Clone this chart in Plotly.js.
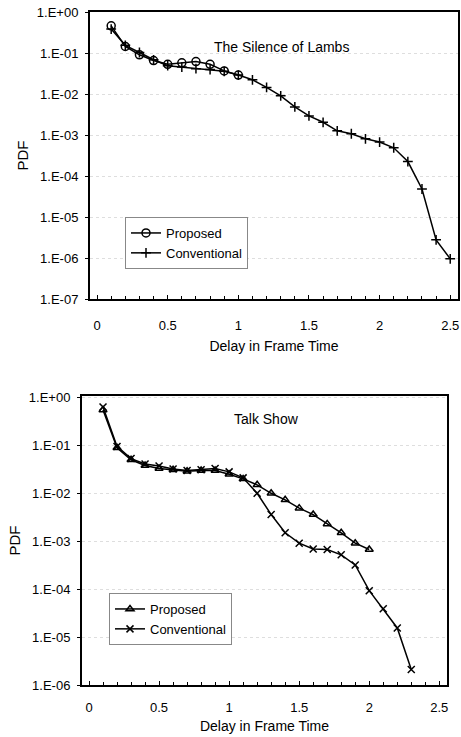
<!DOCTYPE html>
<html>
<head>
<meta charset="utf-8">
<script src="https://cdn.plot.ly/plotly-3.0.1.min.js"></script>
<style>html,body{margin:0;padding:0;background:#fff;}#chart{width:461px;height:737px;}</style>
</head>
<body>
<div id="chart"></div>
<script>
// ---- Data: "The Silence of Lambs" (top panel) ----
const lambsProposedX = [0.1,0.2,0.3,0.4,0.5,0.6,0.7,0.8,0.9,1.0];
const lambsProposedY = [0.48,0.15,0.094,0.068,0.055,0.060,0.064,0.055,0.038,0.030];
const lambsConvX = [0.1,0.2,0.3,0.4,0.5,0.6,0.7,0.8,0.9,1.0,1.1,1.2,1.3,1.4,1.5,1.6,1.7,1.8,1.9,2.0,2.1,2.2,2.3,2.4,2.5];
const lambsConvY = [0.40,0.16,0.107,0.071,0.051,0.047,0.043,0.041,0.037,0.030,0.023,0.015,0.0093,0.0050,0.0030,0.0021,0.0013,0.0011,0.00083,0.00069,0.00050,0.00023,0.000049,0.0000028,0.00000096];

// ---- Data: "Talk Show" (bottom panel) ----
const talkProposedX = [0.1,0.2,0.3,0.4,0.5,0.6,0.7,0.8,0.9,1.0,1.1,1.2,1.3,1.4,1.5,1.6,1.7,1.8,1.9,2.0];
const talkProposedY = [0.55,0.089,0.050,0.038,0.033,0.031,0.029,0.030,0.030,0.025,0.020,0.015,0.010,0.0073,0.0049,0.0036,0.0023,0.0015,0.00091,0.00067];
const talkConvX = [0.1,0.2,0.3,0.4,0.5,0.6,0.7,0.8,0.9,1.0,1.1,1.2,1.3,1.4,1.5,1.6,1.7,1.8,1.9,2.0,2.1,2.2,2.3];
const talkConvY = [0.63,0.095,0.053,0.041,0.037,0.032,0.030,0.031,0.033,0.028,0.021,0.010,0.0036,0.0015,0.00091,0.00069,0.00067,0.00052,0.00032,0.000093,0.000039,0.0000155,0.0000021];

// ---- Tick labels ----
const xTickVals = [0, 0.5, 1, 1.5, 2, 2.5];
const xTickText = ['0', '0.5', '1', '1.5', '2', '2.5'];
const topYTickVals = [1, 1e-1, 1e-2, 1e-3, 1e-4, 1e-5, 1e-6, 1e-7];
const topYTickText = ['1.E+00','1.E-01','1.E-02','1.E-03','1.E-04','1.E-05','1.E-06','1.E-07'];
const botYTickVals = [1, 1e-1, 1e-2, 1e-3, 1e-4, 1e-5, 1e-6];
const botYTickText = ['1.E+00','1.E-01','1.E-02','1.E-03','1.E-04','1.E-05','1.E-06'];

const seriesNames = ['Proposed', 'Conventional'];
const panelTitles = ['The Silence of Lambs', 'Talk Show'];
const xTitle = 'Delay in Frame Time';
const yTitle = 'PDF';

const FONT = 'Arial, "Liberation Sans", Helvetica, sans-serif';
const lineStyle = {color: '#000', width: 1.5};

const traces = [
  {x: lambsProposedX, y: lambsProposedY, name: seriesNames[0], mode: 'lines+markers', xaxis: 'x', yaxis: 'y',
   line: lineStyle, marker: {symbol: 'circle-open', size: 8, color: '#000', line: {width: 1.5, color: '#000'}}, legend: 'legend'},
  {x: lambsConvX, y: lambsConvY, name: seriesNames[1], mode: 'lines+markers', xaxis: 'x', yaxis: 'y',
   line: lineStyle, marker: {symbol: 'cross-thin', size: 7, color: '#000', line: {width: 1.5, color: '#000'}}, legend: 'legend'},
  {x: talkProposedX, y: talkProposedY, name: seriesNames[0], mode: 'lines+markers', xaxis: 'x2', yaxis: 'y2',
   line: lineStyle, marker: {symbol: 'triangle-up-open', size: 7, color: '#000', line: {width: 1.5, color: '#000'}}, legend: 'legend2'},
  {x: talkConvX, y: talkConvY, name: seriesNames[1], mode: 'lines+markers', xaxis: 'x2', yaxis: 'y2',
   line: lineStyle, marker: {symbol: 'x-thin', size: 7, color: '#000', line: {width: 1.5, color: '#000'}}, legend: 'legend2'}
];

function xAxis(domain, anchor, standoffLbl, standoffTitle) {
  return {
    domain: domain, anchor: anchor, range: [-0.05, 2.555],
    tickvals: xTickVals, ticktext: xTickText,
    ticks: 'inside', ticklen: 4, tickcolor: '#000', tickwidth: 1,
    minor: {dtick: 0.1, tick0: 0, ticks: 'inside', ticklen: 3, tickcolor: '#000', showgrid: false},
    showline: true, linecolor: '#000', linewidth: 2, mirror: true,
    showgrid: false, zeroline: false,
    ticklabelstandoff: standoffLbl,
    tickfont: {family: FONT, size: 13, color: '#000'},
    title: {text: xTitle, font: {family: FONT, size: 14, color: '#000'}, standoff: standoffTitle}
  };
}
function yAxis(domain, anchor, range, vals, text) {
  return {
    domain: domain, anchor: anchor, type: 'log', range: range,
    tickvals: vals, ticktext: text,
    ticks: 'outside', ticklen: 3, tickcolor: '#000',
    showline: true, linecolor: '#000', linewidth: 2, mirror: true,
    showgrid: true, gridcolor: '#dedede', griddash: 'dot', gridwidth: 1,
    zeroline: false, ticklabelstandoff: 4,
    tickfont: {family: FONT, size: 13, color: '#000'},
    title: {text: yTitle, font: {family: FONT, size: 15, color: '#000'}, standoff: 5}
  };
}

const layout = {
  width: 461, height: 737,
  margin: {l: 0, r: 0, t: 0, b: 0},
  paper_bgcolor: '#fff', plot_bgcolor: '#fff',
  font: {family: FONT, color: '#000'},
  showlegend: true,
  xaxis: xAxis([90/461, 458/461], 'y', 13, 10),
  yaxis: yAxis([1-299/737, 1-12/737], 'x', [-7, 0.02], topYTickVals, topYTickText),
  xaxis2: xAxis([82/461, 447/461], 'y2', 9, 8),
  yaxis2: yAxis([1-685/737, 1-396/737], 'x2', [-6, 0.03], botYTickVals, botYTickText),
  legend: {x: 125/461, y: 1-217/737, xanchor: 'left', yanchor: 'top',
    bgcolor: '#fff', bordercolor: '#888', borderwidth: 1,
    font: {family: FONT, size: 13, color: '#000'}, tracegroupgap: 0, itemwidth: 30},
  legend2: {x: 109/461, y: 1-593/737, xanchor: 'left', yanchor: 'top',
    bgcolor: '#fff', bordercolor: '#888', borderwidth: 1,
    font: {family: FONT, size: 13, color: '#000'}, tracegroupgap: 0, itemwidth: 30},
  annotations: [
    {text: panelTitles[0], xref: 'paper', yref: 'paper', x: 281/461, y: 1-37/737,
     showarrow: false, font: {family: FONT, size: 14, color: '#000'}},
    {text: panelTitles[1], xref: 'paper', yref: 'paper', x: 266/461, y: 1-419/737,
     showarrow: false, font: {family: FONT, size: 14, color: '#000'}}
  ]
};

Plotly.newPlot('chart', traces, layout, {staticPlot: true, displayModeBar: false});
</script>
</body>
</html>
